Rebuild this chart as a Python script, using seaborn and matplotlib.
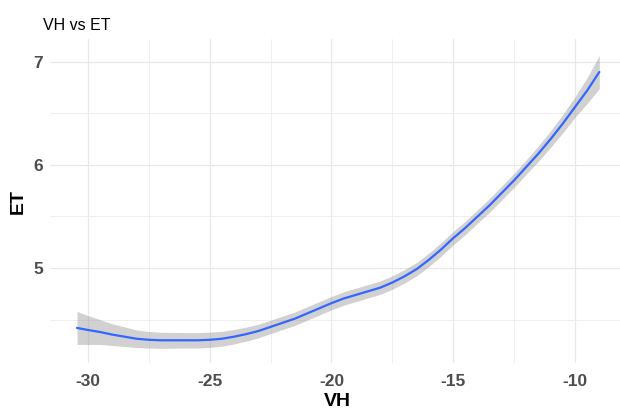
import matplotlib
matplotlib.use("Agg")
import matplotlib.pyplot as plt
from matplotlib.ticker import MultipleLocator
import seaborn as sns
import numpy as np

# Smoothed ET response along VH, with its confidence band
vh = [-30.45, -30.0, -29.5, -29.0, -28.5, -28.0, -27.5, -27.0, -26.5, -26.0,
      -25.5, -25.0, -24.5, -24.0, -23.5, -23.0, -22.5, -22.0, -21.5, -21.0,
      -20.5, -20.0, -19.5, -19.0, -18.5, -18.0, -17.5, -17.0, -16.5, -16.0,
      -15.5, -15.0, -14.5, -14.0, -13.5, -13.0, -12.5, -12.0, -11.5, -11.0,
      -10.5, -10.0, -9.5, -9.0]
et = [4.42, 4.40, 4.38, 4.355, 4.335, 4.315, 4.305, 4.30, 4.30, 4.30,
      4.30, 4.305, 4.315, 4.335, 4.36, 4.39, 4.43, 4.47, 4.51, 4.56,
      4.61, 4.66, 4.705, 4.74, 4.775, 4.81, 4.86, 4.92, 4.99, 5.08,
      5.18, 5.29, 5.39, 5.50, 5.61, 5.73, 5.85, 5.98, 6.11, 6.25,
      6.40, 6.56, 6.72, 6.90]
band = [0.16, 0.14, 0.12, 0.105, 0.095, 0.085, 0.08, 0.078, 0.076, 0.075,
        0.075, 0.074, 0.072, 0.07, 0.068, 0.066, 0.065, 0.065, 0.065, 0.065,
        0.065, 0.065, 0.065, 0.065, 0.065, 0.065, 0.065, 0.065, 0.065, 0.065,
        0.065, 0.065, 0.065, 0.065, 0.066, 0.067, 0.068, 0.07, 0.075, 0.08,
        0.09, 0.10, 0.125, 0.16]

x_ticks = [-30, -25, -20, -15, -10]
y_ticks = [5, 6, 7]

sns.set_theme(style="white")
plt.rcParams["font.family"] = ["Liberation Sans", "DejaVu Sans"]
plt.rcParams["axes.unicode_minus"] = False

fig = plt.figure(figsize=(6.2, 4.12), dpi=100)
ax = fig.add_axes([50 / 620, 49 / 412, 570 / 620, 324 / 412])

lo = np.array(et) - np.array(band)
hi = np.array(et) + np.array(band)
ax.fill_between(vh, lo, hi, color="#999999", alpha=0.45, linewidth=0, zorder=2)
sns.lineplot(x=vh, y=et, color="#3366FF", linewidth=1.6, ax=ax, zorder=3)

ax.set_xlim(-31.56, -8.15)
ax.set_ylim(4.08, 7.22)
ax.set_xticks(x_ticks)
ax.set_yticks(y_ticks)
ax.xaxis.set_minor_locator(MultipleLocator(2.5))
ax.yaxis.set_minor_locator(MultipleLocator(0.5))

ax.grid(which="major", color="#E8E8E8", linewidth=0.9, zorder=0)
ax.grid(which="minor", color="#EDEDED", linewidth=0.6, zorder=0)
ax.set_axisbelow(True)
for s in ax.spines.values():
    s.set_visible(False)

ax.tick_params(axis="both", which="both", length=0)
ax.tick_params(axis="x", pad=8)
ax.tick_params(axis="y", pad=5)
for lab in ax.get_xticklabels() + ax.get_yticklabels():
    lab.set_fontsize(12.5)
    lab.set_fontweight("bold")
    lab.set_color("#4D4D4D")

ax.set_xlabel("VH", fontsize=14, fontweight="bold", color="black")
ax.set_ylabel("ET", fontsize=14, fontweight="bold", color="black")
ax.xaxis.set_label_coords((337 - 50) / 570, -30 / 324)
ax.yaxis.set_label_coords(-23 / 570, 0.5)

fig.text(43 / 620, 1 - 30 / 412, "VH vs ET", fontsize=11.5, color="black",
         ha="left", va="baseline")

fig.savefig("out.png", dpi=100, facecolor="white")
